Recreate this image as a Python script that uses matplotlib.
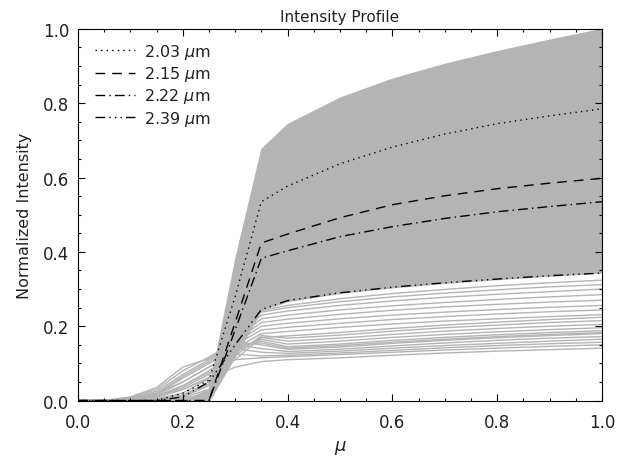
import numpy as np
import matplotlib
matplotlib.use("Agg")
import matplotlib.pyplot as plt
from matplotlib.ticker import MultipleLocator, FormatStrFormatter

# mu grid shared by every curve
mu = [0.0, 0.05, 0.1, 0.15, 0.2, 0.25, 0.3, 0.35, 0.4, 0.5, 0.6, 0.7, 0.8, 0.9, 1.0]

# highlighted wavelengths
labels = ["2.03 $\\mu$m", "2.15 $\\mu$m", "2.22 $\\mu$m", "2.39 $\\mu$m"]
i_203 = [0, 0, 0, 0, 0.02, 0.055, 0.28, 0.535, 0.577, 0.637, 0.682, 0.717, 0.745, 0.766, 0.785]
i_215 = [0, 0, 0, 0, 0, 0.0, 0.21, 0.424, 0.448, 0.492, 0.527, 0.551, 0.57, 0.585, 0.598]
i_222 = [0, 0, 0, 0, 0, 0.0, 0.19, 0.383, 0.403, 0.441, 0.468, 0.49, 0.508, 0.522, 0.535]
i_239 = [0, 0, 0, 0, 0.01, 0.05, 0.15, 0.245, 0.269, 0.29, 0.305, 0.317, 0.327, 0.336, 0.343]

# envelope of the dense band of grey profiles
band_top = [0, 0, 0, 0, 0.0, 0.03, 0.38, 0.677, 0.744, 0.815, 0.866, 0.906, 0.94, 0.971, 1.0]
band_bot = [0, 0, 0, 0, 0.0, 0.0, 0.12, 0.245, 0.268, 0.29, 0.305, 0.317, 0.327, 0.336, 0.345]

# the sparser grey profiles below the band
low_curves = [
    [0, 0, 0.002, 0.01, 0.03, 0.06, 0.09, 0.105, 0.11, 0.115, 0.122, 0.128, 0.133, 0.137, 0.141],
    [0, 0, 0.003, 0.012, 0.04, 0.075, 0.11, 0.115, 0.118, 0.124, 0.13, 0.136, 0.141, 0.146, 0.15],
    [0, 0, 0.005, 0.02, 0.05, 0.09, 0.125, 0.12, 0.122, 0.128, 0.135, 0.142, 0.148, 0.153, 0.157],
    [0, 0, 0.004, 0.018, 0.06, 0.1, 0.14, 0.13, 0.127, 0.133, 0.141, 0.148, 0.154, 0.16, 0.165],
    [0, 0, 0.006, 0.025, 0.07, 0.11, 0.15, 0.14, 0.132, 0.138, 0.147, 0.155, 0.162, 0.168, 0.172],
    [0, 0, 0.008, 0.03, 0.08, 0.117, 0.158, 0.15, 0.138, 0.144, 0.154, 0.162, 0.169, 0.175, 0.18],
    [0, 0, 0.01, 0.035, 0.09, 0.113, 0.15, 0.155, 0.141, 0.148, 0.157, 0.165, 0.172, 0.178, 0.183],
    [0, 0, 0.004, 0.02, 0.065, 0.105, 0.145, 0.16, 0.145, 0.152, 0.162, 0.17, 0.177, 0.183, 0.188],
    [0, 0, 0.003, 0.015, 0.05, 0.09, 0.135, 0.165, 0.152, 0.16, 0.17, 0.178, 0.185, 0.191, 0.196],
    [0, 0, 0.002, 0.012, 0.04, 0.08, 0.13, 0.17, 0.16, 0.168, 0.178, 0.187, 0.194, 0.2, 0.205],
    [0, 0, 0.002, 0.01, 0.035, 0.07, 0.12, 0.175, 0.168, 0.176, 0.187, 0.196, 0.203, 0.21, 0.215],
    [0, 0, 0.001, 0.008, 0.03, 0.062, 0.11, 0.17, 0.174, 0.183, 0.194, 0.203, 0.211, 0.218, 0.224],
    [0, 0, 0, 0.005, 0.02, 0.06, 0.14, 0.18, 0.186, 0.197, 0.206, 0.214, 0.22, 0.226, 0.231],
    [0, 0, 0, 0.004, 0.015, 0.05, 0.15, 0.19, 0.197, 0.208, 0.218, 0.226, 0.233, 0.239, 0.244],
    [0, 0, 0, 0.003, 0.012, 0.045, 0.155, 0.2, 0.208, 0.22, 0.23, 0.238, 0.245, 0.251, 0.256],
    [0, 0, 0, 0, 0.01, 0.04, 0.16, 0.21, 0.219, 0.232, 0.243, 0.252, 0.259, 0.265, 0.27],
    [0, 0, 0, 0, 0.008, 0.03, 0.165, 0.22, 0.23, 0.244, 0.255, 0.264, 0.272, 0.279, 0.285],
    [0, 0, 0, 0, 0.005, 0.02, 0.17, 0.23, 0.241, 0.256, 0.268, 0.278, 0.286, 0.293, 0.3],
    [0, 0, 0, 0, 0.003, 0.01, 0.17, 0.238, 0.25, 0.266, 0.279, 0.289, 0.298, 0.306, 0.312],
    [0, 0, 0, 0, 0, 0.005, 0.17, 0.242, 0.256, 0.274, 0.288, 0.299, 0.309, 0.317, 0.324],
]

grey = "#b4b4b4"
txt = "#222222"

fig = plt.figure(figsize=(6.39, 4.6), dpi=100)
ax = fig.add_axes([0.122, 0.127, 0.820, 0.808])

ax.fill_between(mu, band_bot, band_top, color=grey, lw=1.0, zorder=1)
for c in low_curves:
    ax.plot(mu, c, color=grey, lw=1.0, zorder=1)

styles = [(0, (1, 3)), (0, (7, 5)), (0, (7, 3, 1, 3)), (0, (7, 3, 1, 3, 1, 3, 1, 3))]
for vals, ls, lab in zip([i_203, i_215, i_222, i_239], styles, labels):
    ax.plot(mu, vals, color="black", lw=1.0, linestyle=ls, label=lab, zorder=3)

ax.set_xlim(0, 1)
ax.set_ylim(0, 1)
ax.xaxis.set_major_locator(MultipleLocator(0.2))
ax.xaxis.set_minor_locator(MultipleLocator(0.05))
ax.yaxis.set_major_locator(MultipleLocator(0.2))
ax.yaxis.set_minor_locator(MultipleLocator(0.05))
ax.xaxis.set_major_formatter(FormatStrFormatter("%.1f"))
ax.yaxis.set_major_formatter(FormatStrFormatter("%.1f"))
ax.tick_params(which="both", direction="in", top=True, right=True, labelsize=12,
               width=0.8, labelcolor=txt)
ax.tick_params(which="major", length=5)
ax.tick_params(axis="x", which="major", pad=9)
ax.tick_params(axis="y", which="major", pad=6)
ax.tick_params(which="minor", length=2.5)
for s in ax.spines.values():
    s.set_linewidth(0.8)

ax.set_title("Intensity Profile", fontsize=11, pad=6, color=txt)
ax.set_xlabel("$\\mu$", fontsize=13, labelpad=5, color=txt)
ax.set_ylabel("Normalized Intensity", fontsize=11.5, labelpad=8, color=txt)

leg = ax.legend(loc="upper left", frameon=False, fontsize=11.5, handlelength=2.5,
                handletextpad=0.6, labelspacing=0.2, borderaxespad=0.0,
                bbox_to_anchor=(0.02, 0.982))
for t in leg.get_texts():
    t.set_color(txt)

fig.savefig("out.png", dpi=100)
